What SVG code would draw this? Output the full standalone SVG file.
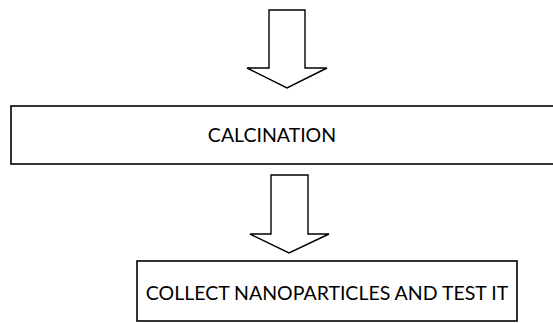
<svg xmlns="http://www.w3.org/2000/svg" width="553" height="323" viewBox="0 0 553 323">
<style>
.box{fill:#fff;stroke:#000;stroke-width:1.6}
.arr{fill:#fff;stroke:#000;stroke-width:1.4;stroke-linejoin:miter}
.lbl{font-family:Lato,"Liberation Sans",sans-serif;font-size:19.5px;fill:#000;text-anchor:middle}
</style>
<rect width="553" height="323" fill="#fff"/>
<g id="connectors">
<polygon class="arr" points="269,10 305,10 305,68 327,68 287,88 247,68 269,68"/>
<polygon class="arr" points="271,175 308,175 308,234 329,234 289,253 250,234 271,234"/>
</g>
<g id="node-calcination">
<rect class="box" x="11" y="106" width="560" height="58"/>
<text class="lbl" x="272" y="142">CALCINATION</text>
</g>
<g id="node-collect">
<rect class="box" x="137" y="261" width="380" height="60"/>
<text class="lbl" x="327" y="300">COLLECT NANOPARTICLES AND TEST IT</text>
</g>
</svg>
